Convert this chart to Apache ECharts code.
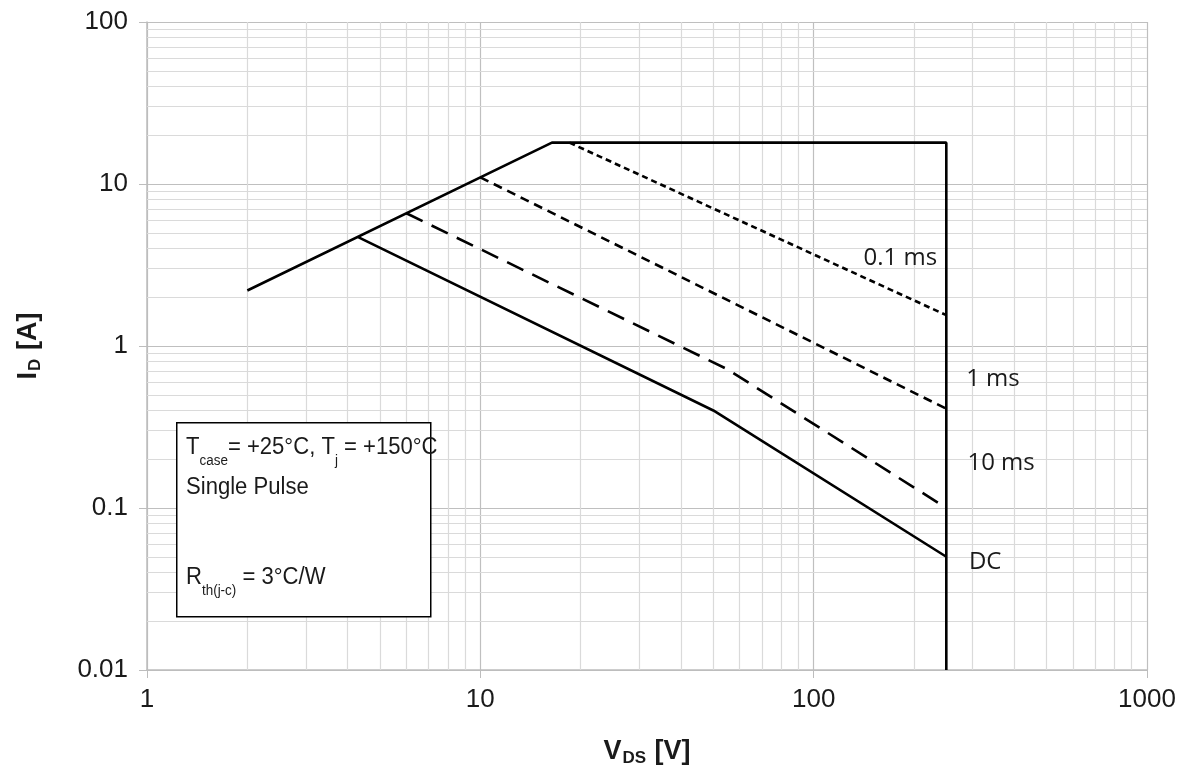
<!DOCTYPE html>
<html>
<head>
<meta charset="utf-8">
<script src="https://cdn.jsdelivr.net/npm/echarts@6/dist/echarts.min.js"></script>
<style>
  html, body { margin: 0; padding: 0; background: #fff; }
  #chart { width: 1198px; height: 765px; }
</style>
</head>
<body>
<div id="chart"></div>
<script>
// safe operating area [V_DS, I_D]
var limitLine = [[2, 2.2], [16.4, 18], [250, 18], [250, 0.01]];
var pulse01ms = [[18.5, 18], [250, 1.55]];
var pulse1ms  = [[10, 11], [250, 0.41]];
var pulse10ms = [[6, 6.6], [55, 0.72], [250, 0.1]];
var dcLine    = [[4.3, 4.7], [50, 0.4], [250, 0.05]];

var xMinor = [2, 3, 4, 5, 6, 7, 8, 9, 20, 30, 40, 50, 60, 70, 80, 90, 200, 300, 400, 500, 600, 700, 800, 900];
var yMinor = [0.02, 0.03, 0.04, 0.05, 0.06, 0.07, 0.08, 0.09, 0.2, 0.3, 0.4, 0.5, 0.6, 0.7, 0.8, 0.9,
              2, 3, 4, 5, 6, 7, 8, 9, 20, 30, 40, 50, 60, 70, 80, 90];

var curveLabels = [
    { name: '0.1 ms', coord: [182, 3.5] },
    { name: '1 ms', coord: [345, 0.62] },
    { name: '10 ms', coord: [365, 0.19] },
    { name: 'DC', coord: [327, 0.046] }
];

var fmt = function (v) { return String(+v.toPrecision(3)); };

var minorGrid = [];
xMinor.forEach(function (v) { minorGrid.push({ xAxis: v }); });
yMinor.forEach(function (v) { minorGrid.push({ yAxis: v }); });

function curve(name, data, dash) {
    return {
        name: name,
        type: 'line',
        data: data,
        symbol: 'none',
        z: 5,
        lineStyle: { color: '#000', width: 2.6, type: dash }
    };
}

var nameStyle = {
    fontFamily: 'Liberation Sans', fontSize: 27, fontWeight: 'bold', color: '#1a1a1a',
    rich: { s: { fontFamily: 'Liberation Sans', fontSize: 17, fontWeight: 'bold', color: '#1a1a1a', verticalAlign: 'bottom', padding: [14, 1, 0, 1] } }
};

var chart = echarts.init(document.getElementById('chart'));
var option = {
    animation: false,
    grid: { left: 147, right: 51, top: 22, bottom: 95, outerBoundsMode: 'none' },
    xAxis: {
        type: 'log',
        logBase: 10,
        min: 1,
        max: 1000,
        name: 'V{s|DS} [V]',
        nameLocation: 'middle',
        nameGap: 66,
        nameTextStyle: nameStyle,
        axisLine: { show: true, lineStyle: { color: '#bdbdbd', width: 1.5 } },
        axisTick: { show: true, length: 8, lineStyle: { color: '#bdbdbd' } },
        axisLabel: { fontFamily: 'Liberation Sans', fontSize: 26, color: '#1a1a1a', margin: 17, formatter: fmt },
        splitLine: { show: true, lineStyle: { color: '#bfbfbf', width: 1.2 } }
    },
    yAxis: {
        type: 'log',
        logBase: 10,
        min: 0.01,
        max: 100,
        name: 'I{s|D} [A]',
        nameLocation: 'middle',
        nameRotate: 90,
        nameGap: 103,
        nameTextStyle: nameStyle,
        axisLine: { show: true, lineStyle: { color: '#bdbdbd', width: 1.5 } },
        axisTick: { show: true, length: 8, lineStyle: { color: '#bdbdbd' } },
        axisLabel: { fontFamily: 'Liberation Sans', fontSize: 26, color: '#1a1a1a', margin: 19, formatter: fmt },
        splitLine: { show: true, lineStyle: { color: '#bfbfbf', width: 1.2 } }
    },
    series: [
        {
            name: 'grid',
            type: 'line',
            data: [],
            silent: true,
            z: 1,
            markLine: {
                silent: true,
                symbol: 'none',
                label: { show: false },
                lineStyle: { color: '#dadada', width: 1.2, type: 'solid' },
                data: minorGrid,
                animation: false
            }
        },
        curve('limit', limitLine, 'solid'),
        curve('0.1 ms', pulse01ms, [6, 4]),
        curve('1 ms', pulse1ms, [9, 6]),
        curve('10 ms', pulse10ms, [18, 10]),
        curve('DC', dcLine, 'solid'),
        {
            name: 'labels',
            type: 'line',
            data: [],
            markPoint: {
                symbol: 'circle',
                symbolSize: 0,
                label: {
                    show: true,
                    position: 'inside',
                    formatter: '{b}',
                    fontFamily: 'Open Sans',
                    fontSize: 24,
                    color: '#1a1a1a'
                },
                data: curveLabels
            }
        }
    ],
    graphic: [
        {
            type: 'rect',
            left: 176,
            top: 422,
            shape: { width: 254, height: 194 },
            style: { fill: '#fff', stroke: '#000', lineWidth: 1.5 },
            z: 10
        },
        {
            type: 'text',
            x: 186,
            y: 428,
            scaleX: 0.96,
            z: 11,
            style: {
                text: 'T{s|case}= +25°C, T{s|j} = +150°C\nSingle Pulse\n\n{gap|}\nR{s|th(j-c)} = 3°C/W',
                fontFamily: 'Liberation Sans',
                fontSize: 23,
                fill: '#1a1a1a',
                lineHeight: 40,
                rich: {
                    s: { fontFamily: 'Liberation Sans', fontSize: 14, fill: '#1a1a1a', verticalAlign: 'bottom', lineHeight: 30 },
                    gap: { lineHeight: 10 }
                }
            }
        }
    ]
};
chart.setOption(option);
</script>
</body>
</html>
